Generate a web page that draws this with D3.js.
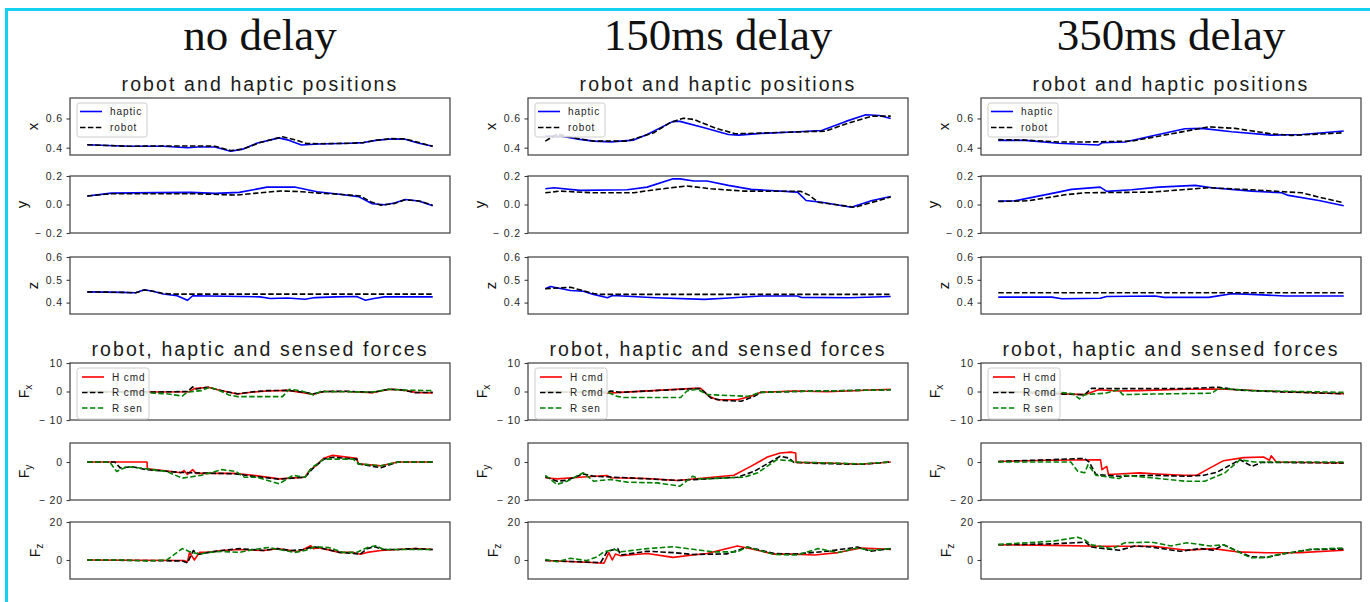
<!DOCTYPE html>
<html>
<head>
<meta charset="utf-8">
<script src="https://cdn.jsdelivr.net/npm/d3@7"></script>
<style>
  body { margin: 0; background: #fff; }
  svg text { font-family: "Liberation Sans", Arial, sans-serif; }
</style>
</head>
<body>
<svg id="chart" width="1370" height="602"></svg>
<script>
// titles and names
const colTitles = ['no delay', '150ms delay', '350ms delay']
const sectionTitles = ['robot and haptic positions', 'robot, haptic and sensed forces']
const posNames = ['haptic', 'robot']
const forceNames = ['H cmd', 'R cmd', 'R sen']
const rowLabels = ['x', 'y', 'z', 'x', 'y', 'z']

// y domains and ticks for each row
const rowDomains = [[0.35, 0.74], [-0.2, 0.2], [0.35, 0.6], [-10, 10], [-20, 10], [-10, 20]]
const rowTicks = [[0.4, 0.6], [-0.2, 0, 0.2], [0.4, 0.5, 0.6], [-10, 0, 10], [-20, 0], [0, 20]]

// ---- no delay ----
const nd_x_haptic = [[0,.42],[6,.415],[12,.41],[22,.41],[29,.40],[32,.405],[37,.405],[41.5,.376],[45,.39],[49,.43],[55.5,.467],[58.5,.45],[62,.418],[67,.425],[76,.43],[80,.435],[84,.452],[88,.46],[92,.458],[96,.43],[100,.41]]
const nd_x_robot = [[0,.42],[6,.415],[12,.41],[22,.412],[29,.412],[33,.412],[37,.41],[41.5,.38],[45,.39],[50,.435],[56.5,.475],[60,.455],[63.5,.428],[67,.427],[76,.43],[80,.435],[84,.452],[88,.462],[92,.46],[96,.435],[100,.41]]
const nd_y_haptic = [[0,.06],[7,.08],[20,.083],[30,.085],[37,.078],[44,.085],[52,.122],[60,.123],[66.5,.09],[73,.072],[78.5,.055],[82.5,.005],[86,-.002],[89,.01],[92,.035],[96,.025],[100,-.008]]
const nd_y_robot = [[0,.06],[7,.075],[20,.075],[30,.076],[36,.072],[43,.066],[49,.08],[56,.095],[62,.09],[67,.08],[73,.072],[79,.06],[82,.02],[85,-.005],[89,.008],[92,.033],[96,.025],[100,-.005]]
const nd_z_haptic = [[0,.447],[10,.445],[14,.443],[16.5,.456],[19,.45],[22,.438],[26,.43],[29,.41],[30.5,.43],[40,.428],[50,.425],[53,.418],[58,.42],[63,.415],[66,.422],[72,.425],[78,.427],[80.5,.41],[83,.418],[86,.425],[100,.425]]
const nd_z_robot = [[0,.447],[10,.445],[14,.443],[16.5,.455],[19,.45],[22,.44],[25,.437],[100,.437]]
const nd_fx_hcmd = [[0,0],[18,-0.2],[29.5,-0.1],[31,1.0],[35,1.5],[38,0.5],[43.5,-0.9],[48,-0.2],[52,0.2],[58,0.4],[62,-0.3],[65.5,-1.0],[68.5,0],[75,0],[82.5,-0.4],[87.5,0.8],[91,0.6],[95,-0.3],[100,-0.5]]
const nd_fx_rcmd = [[0,0],[18,-0.2],[29,0],[30.5,1.6],[31.5,0.9],[35,1.5],[38,0.5],[43.5,-0.8],[48,-0.1],[52,0.3],[58,0.4],[62,-0.2],[65.5,-0.8],[68.5,0],[75,0.1],[82.5,-0.3],[87.5,0.8],[91,0.5],[95,-0.4],[100,-0.3]]
const nd_fx_rsen = [[0,0],[18,-0.5],[23,-0.8],[27.5,-1.6],[29,-0.2],[33,0.3],[35.5,1.5],[38,0.5],[41,-1.2],[43.5,-1.8],[56.5,-1.8],[58.5,0.8],[62,0.2],[65.5,-1.2],[67.5,0],[82.5,-0.2],[87.5,0.8],[92,0.5],[100,0.3]]
const nd_fy_hcmd = [[0,0],[17.3,0],[17.4,-3.6],[22,-4.5],[27,-5.7],[28,-4.5],[29,-6.5],[30.5,-4],[31.5,-6],[38,-6],[42.5,-6],[48,-7],[55.5,-8.9],[63,-8],[64.5,-4],[65.5,-3],[68.5,2],[71,3.5],[78,2],[78.5,-1],[85,-2],[90,0],[100,0]]
const nd_fy_rcmd = [[0,0],[8,0],[9.5,-3.1],[13,-2.5],[17,-4],[27,-5.5],[38,-6],[42.5,-6.2],[48,-7.5],[55.5,-9],[63,-8],[65.5,-3],[68.5,1.5],[71,2.5],[78,1.5],[78.5,-1],[85,-3],[90,0],[100,0]]
const nd_fy_rsen = [[0,0],[6.5,0],[8.5,-5],[11.5,-2.5],[14.5,-3],[23,-5],[27.5,-8.5],[33,-7],[39,-4],[43,-5],[45.5,-8],[49,-8],[55.5,-11.5],[59.5,-7],[63,-8],[65,-3],[68.5,1.5],[77,1.5],[78.5,-1],[85,-2],[90,0],[100,0]]
const nd_fz_hcmd = [[0,0],[28,-0.3],[29,-1],[29.6,4],[31,0],[32.5,4],[35,4],[39,5],[44,5.5],[51,5],[55,6],[59,5],[61,4.5],[62.5,5.5],[64.7,7.5],[65.5,6],[67,6.5],[73,4],[77,4],[79,3],[81,4],[85,5],[90,5.5],[95,6],[100,5.5]]
const nd_fz_rcmd = [[0,0],[27.5,-0.5],[29,-1.5],[30.7,5],[32.3,3],[35,4],[39,5],[44,6],[51,5],[55,6],[59,5],[62.5,5.5],[65.6,7],[67,6.5],[73,4],[77,3.5],[79,3],[81,6],[83.3,7],[85.5,5.5],[90,5.5],[95,6],[100,5.5]]
const nd_fz_rsen = [[0,0],[10,0],[17,-0.5],[23,0],[27.5,6],[29.5,4.5],[32.5,3],[35,4],[39,4.5],[44,4],[48,5.5],[52.5,6.6],[57,5],[60,4],[63,5],[66,7],[70,6.5],[74,4],[78,4],[81,6.5],[83.5,7.5],[86,5.5],[90,5.5],[100,5.5]]

// ---- 150ms delay ----
const d150_x_haptic = [[0,.48],[4.3,.48],[10,.457],[14,.445],[19,.44],[25.6,.452],[29.5,.49],[37,.58],[39,.58],[46,.536],[53,.49],[56,.486],[62.5,.498],[72,.507],[80,.518],[87,.58],[92.8,.625],[96.7,.62],[100,.6]]
const d150_x_robot = [[0,.445],[3.4,.495],[8,.468],[14,.445],[23.7,.445],[31.4,.502],[36,.57],[40,.602],[43,.593],[49,.536],[55,.495],[62.5,.5],[72,.507],[81,.513],[88,.57],[94.6,.616],[100,.616]]
const d150_y_haptic = [[0,.11],[2.5,.118],[10,.099],[23.7,.103],[29.5,.122],[37,.18],[39,.18],[43,.165],[46.8,.165],[53,.134],[59.6,.106],[73,.087],[74,.064],[75.5,.028],[80,.016],[88.6,-.019],[94.6,.028],[100,.056]]
const d150_y_robot = [[0,.082],[4.3,.094],[14,.082],[25.6,.082],[31.4,.103],[41,.13],[48,.11],[57.6,.094],[74,.092],[76.5,.064],[79,.016],[89.6,-.019],[100,.052]]
const d150_z_haptic = [[0,.461],[1.5,.471],[7.3,.453],[11,.45],[14,.436],[18,.421],[19.5,.431],[32,.421],[46,.414],[52,.419],[62.5,.429],[73,.429],[74,.423],[88,.421],[100,.427]]
const d150_z_robot = [[0,.461],[7.3,.467],[14,.44],[16,.436],[100,.436]]
const d150_fx_hcmd = [[0,0],[17.9,-0.6],[21.8,-0.3],[43,1.1],[45,1.1],[47.4,-1.7],[49.8,-2.9],[55.6,-2.9],[59.5,-1.7],[62.4,-0.3],[72,0.2],[81.7,-0.1],[100,0.8]]
const d150_fx_rcmd = [[0,0],[17.9,-0.3],[18.9,0.2],[21.8,-0.3],[43,1.0],[45,1.0],[48,-2.3],[51,-3.1],[56.7,-3.4],[60.5,-1.7],[62.4,-0.3],[72,0],[100,0.6]]
const d150_fx_rsen = [[0,0],[17.9,-0.2],[20.8,-1.7],[22.7,-2.1],[39.2,-2.1],[41,0.2],[44,0.8],[47,-1.1],[58.6,-1.7],[62.4,-0.3],[72,0],[100,0.6]]
const d150_fy_hcmd = [[0,-8.3],[3.4,-8.9],[12,-7.8],[17.9,-7.1],[19,-8.3],[29.5,-8.7],[38.2,-9.7],[46.8,-8.3],[54.6,-7],[59.5,-2.3],[64.3,2.6],[68,4.7],[71,5.2],[72.5,4.7],[72.6,-0.2],[81.7,-0.5],[91.4,-1.2],[100,0]]
const d150_fy_rcmd = [[0,-7.8],[3.4,-10.1],[6.3,-9.6],[11,-6.3],[14,-7.5],[23.7,-8.3],[38.2,-9.7],[46.8,-8.9],[55.6,-8],[60.5,-4.9],[68,3],[70.5,2.1],[72,-0.2],[81.7,-0.9],[91.4,-1.2],[100,0]]
const d150_fy_rsen = [[0,-7],[3.4,-11.8],[6.3,-10.1],[11,-5.7],[14,-10.1],[19,-9.2],[23.7,-10.6],[32.4,-11],[39,-12.7],[42.7,-7.5],[44.6,-8.9],[57.6,-8],[61.5,-5.7],[67,1.2],[71,0.7],[72,0],[81.7,-0.5],[91.4,-1],[100,0]]
const d150_fz_hcmd = [[0,-0.3],[12,-1.2],[17,-1.7],[18.4,3.9],[19.4,0],[20.3,3.1],[21.8,2.2],[29.5,3.4],[37,1.4],[42.7,2.6],[46.8,3.4],[55.6,7.4],[58.5,6.3],[66.3,3.1],[72,3.1],[78,2.6],[84.7,3.9],[91.4,6.3],[100,5.6]]
const d150_fz_rcmd = [[0,-0.3],[16,-1.4],[18,4.6],[21,6],[21.8,2.6],[29.5,4.6],[37,3.9],[42.7,2.9],[52.5,3.2],[58.5,6.8],[66.3,3.4],[72,3.1],[81.7,4.6],[90.4,6.8],[94.2,4.6],[100,6]]
const d150_fz_rsen = [[0,0.3],[3.4,-0.9],[7.3,0.9],[12,-0.3],[15,1.7],[17,4.3],[20,5.6],[21.8,4.3],[29.5,6],[37,7],[48.7,4.3],[55.6,4.3],[58.5,6.8],[66.3,2.9],[73,2.6],[79,6],[84.7,3.9],[90.4,6.3],[94.2,5.1],[100,6]]

// ---- 350ms delay ----
const d350_x_haptic = [[0,.45],[7.7,.45],[17.4,.43],[29,.418],[30,.434],[36.7,.439],[44.4,.48],[54,.53],[58.9,.532],[67.6,.509],[79,.486],[87.9,.49],[100,.514]]
const d350_x_robot = [[0,.455],[7.7,.452],[17.4,.439],[25,.439],[38.6,.445],[50.2,.495],[60.9,.543],[68.6,.532],[79,.495],[85,.484],[100,.502]]
const d350_y_haptic = [[0,.024],[4.8,.026],[11.6,.059],[17.4,.087],[21.2,.106],[29.5,.122],[31.4,.092],[38.6,.103],[46.4,.122],[57,.134],[61.8,.118],[73.4,.094],[82,.082],[84,.064],[92.8,.028],[100,-.009]]
const d350_y_robot = [[0,.021],[8.7,.026],[19.3,.068],[25,.082],[44.4,.087],[60.9,.118],[73.4,.103],[87.9,.082],[92.8,.052],[100,.012]]
const d350_z_haptic = [[0,.424],[15.5,.424],[18.4,.417],[29.5,.419],[31.4,.427],[45.4,.429],[48,.423],[60.9,.423],[67.6,.439],[73.4,.436],[83,.429],[100,.429]]
const d350_z_robot = [[0,.443],[100,.443]]
const d350_fx_hcmd = [[0,0],[18,-0.8],[25,-1.1],[29,0.6],[34.8,0.2],[40.6,0.3],[54,0.8],[63.8,0.9],[69.6,0.6],[81,0],[100,-0.8]]
const d350_fx_rcmd = [[0,0],[18,-0.9],[25,-1.1],[27,1.1],[34.8,1.0],[54,1.0],[63.8,1.5],[69.6,0.5],[81,-0.1],[100,-0.8]]
const d350_fx_rsen = [[0,0],[18,-0.3],[21.6,-0.8],[23.5,-2.6],[25,-1.1],[31,-0.6],[34.8,0.6],[36,-1.1],[44.7,-0.9],[61.8,-0.6],[63.8,1.1],[73.4,0.3],[100,-0.3]]
const d350_fy_hcmd = [[0,0.3],[15,0.9],[29.6,1.2],[30,-4],[31.4,-2.3],[31.9,-6.6],[34.8,-6.3],[41,-5.7],[46,-6.3],[53.6,-7],[57.5,-7],[60.4,-4],[65.2,0.7],[71,2.3],[76.8,2.6],[78.5,0.9],[79,3.3],[80.5,0],[100,-0.5]]
const d350_fy_rcmd = [[0,0.3],[15,1.2],[24.9,1.9],[26.3,0],[28.3,-6.6],[35,-7.5],[44.4,-7],[54.6,-7.5],[59.5,-7],[63.3,-5.4],[70,1.2],[73.4,-2.3],[76.3,-0.2],[100,-0.5]]
const d350_fy_rsen = [[0,0],[21,0],[23,-4.9],[25,-5.7],[26,-1.4],[28.3,-7],[35,-8.7],[36.5,-7],[44.4,-8.3],[54,-10.1],[59.8,-10.1],[65.6,-5.7],[70,1.2],[74,0],[100,0]]
const d350_fz_hcmd = [[0,8],[15.9,7.7],[29.5,7.2],[45,7.2],[54.6,5.1],[62.3,6],[69,4.3],[77.6,3.8],[87.3,3.9],[100,5.1]]
const d350_fz_rcmd = [[0,8],[15.9,8.5],[25.3,9.4],[27,6.8],[35,5.1],[39.6,7.4],[44.4,6.8],[52.6,4.6],[58.5,6],[62.3,5.1],[65.2,8],[73,1.7],[77.6,1.4],[81.6,2.9],[90,5.5],[100,5.8]]
const d350_fz_rsen = [[0,8.2],[15.9,9.9],[23,12],[25,10.6],[27,8],[33,6],[36.7,9.1],[44.4,9.4],[50,7.4],[54.6,9.1],[61.3,7.4],[65.2,8],[73,1.2],[77.6,1.2],[81,2.9],[90.6,5.6],[100,6.3]]

const colSeries = [
  [[nd_x_haptic, nd_x_robot], [nd_y_haptic, nd_y_robot], [nd_z_haptic, nd_z_robot],
   [nd_fx_hcmd, nd_fx_rcmd, nd_fx_rsen], [nd_fy_hcmd, nd_fy_rcmd, nd_fy_rsen], [nd_fz_hcmd, nd_fz_rcmd, nd_fz_rsen]],
  [[d150_x_haptic, d150_x_robot], [d150_y_haptic, d150_y_robot], [d150_z_haptic, d150_z_robot],
   [d150_fx_hcmd, d150_fx_rcmd, d150_fx_rsen], [d150_fy_hcmd, d150_fy_rcmd, d150_fy_rsen], [d150_fz_hcmd, d150_fz_rcmd, d150_fz_rsen]],
  [[d350_x_haptic, d350_x_robot], [d350_y_haptic, d350_y_robot], [d350_z_haptic, d350_z_robot],
   [d350_fx_hcmd, d350_fx_rcmd, d350_fx_rsen], [d350_fy_hcmd, d350_fy_rcmd, d350_fy_rsen], [d350_fz_hcmd, d350_fz_rcmd, d350_fz_rsen]]
]

// layout
const colLeft = [70, 528, 981]
const plotW = 380
const rowTop = [98, 176, 257, 363, 443, 522]
const plotH = 57
const dash = '5.5,2.4'
const posStyles = [{ color: '#0000ff', dash: null }, { color: '#000000', dash: dash }]
const forceStyles = [{ color: '#ff0000', dash: null }, { color: '#000000', dash: dash }, { color: '#008000', dash: dash }]
const frameColor = '#3c3c3c'

const svg = d3.select('#chart')

svg.append('rect')
  .attr('x', 6.5).attr('y', 9.5)
  .attr('width', 1420).attr('height', 700)
  .attr('fill', 'none')
  .attr('stroke', '#16d0ef')
  .attr('stroke-width', 3)

const xScale = d3.scaleLinear().domain([-5, 105]).range([0, plotW])

function tickFormat(row) {
  const f = row < 3 ? d3.format('.1f') : d3.format('d')
  return v => (v < 0 ? '\u2212 ' : '') + f(Math.abs(v))
}

colLeft.forEach((left, c) => {
  const cx = left + plotW / 2

  svg.append('text')
    .attr('x', cx).attr('y', 50)
    .attr('text-anchor', 'middle')
    .style('font-family', '"Liberation Serif", "Times New Roman", serif')
    .style('font-size', '45px')
    .attr('fill', '#111')
    .text(colTitles[c])

  svg.append('text')
    .attr('x', cx).attr('y', 91)
    .attr('text-anchor', 'middle')
    .style('font-size', '19.5px')
    .style('letter-spacing', '2.1px')
    .attr('fill', '#1a1a1a')
    .text(sectionTitles[0])

  svg.append('text')
    .attr('x', cx).attr('y', 356)
    .attr('text-anchor', 'middle')
    .style('font-size', '19.5px')
    .style('letter-spacing', '2.1px')
    .attr('fill', '#1a1a1a')
    .text(sectionTitles[1])

  rowTop.forEach((top, r) => {
    const g = svg.append('g').attr('transform', `translate(${left},${top})`)
    const yScale = d3.scaleLinear().domain(rowDomains[r]).range([plotH, 0])

    const axis = g.append('g')
      .call(d3.axisLeft(yScale).tickValues(rowTicks[r]).tickSize(3.5).tickPadding(3.5).tickFormat(tickFormat(r)))
    axis.select('.domain').remove()
    axis.selectAll('.tick line').attr('stroke', frameColor).attr('stroke-width', 1.1)
    axis.selectAll('.tick text')
      .attr('fill', '#262626')
      .style('font-family', '"Liberation Sans", Arial, sans-serif')
      .style('font-size', '10.5px')
      .style('letter-spacing', '0.9px')

    const isForce = r >= 3
    const styles = isForce ? forceStyles : posStyles
    const line = d3.line().x(d => xScale(d[0])).y(d => yScale(d[1]))

    colSeries[c][r].forEach((series, i) => {
      g.append('path')
        .datum(series)
        .attr('d', line)
        .attr('fill', 'none')
        .attr('stroke', styles[i].color)
        .attr('stroke-width', 1.6)
        .attr('stroke-linejoin', 'round')
        .attr('stroke-dasharray', styles[i].dash)
    })

    g.append('rect')
      .attr('width', plotW).attr('height', plotH)
      .attr('fill', 'none')
      .attr('stroke', frameColor)
      .attr('stroke-width', 1.2)

    // y label placed left of the tick labels
    const minX = d3.min(axis.selectAll('.tick text').nodes(), n => n.getBBox().x)
    const lg = g.append('g')
      .attr('transform', `translate(${minX - 5},${plotH / 2}) rotate(-90)`)
    const lab = lg.append('text')
      .attr('text-anchor', 'middle')
      .attr('fill', '#111')
    if (isForce) {
      lab.append('tspan').style('font-size', '14px').text('F')
      lab.append('tspan').style('font-size', '10px').attr('dy', '3').text(rowLabels[r])
    } else {
      lab.style('font-size', '15px').text(rowLabels[r])
    }
    const bb = lab.node().getBBox()
    lab.attr('y', -(bb.y + bb.height))

    // legend in the first panel of each block
    if (r === 0 || r === 3) {
      const names = isForce ? forceNames : posNames
      const lw = isForce ? 72 : 70
      const lh = isForce ? 51 : 34
      const leg = g.append('g').attr('transform', `translate(7,5)`)
      leg.append('rect')
        .attr('width', lw).attr('height', lh)
        .attr('rx', 2.5)
        .attr('fill', 'rgba(255,255,255,0.85)')
        .attr('stroke', '#cccccc')
      names.forEach((name, i) => {
        const ly = isForce ? 9 + i * 15.5 : 8.5 + i * 16
        leg.append('line')
          .attr('x1', isForce ? 5 : 3).attr('x2', isForce ? 27 : 25)
          .attr('y1', ly).attr('y2', ly)
          .attr('stroke', styles[i].color)
          .attr('stroke-width', 1.6)
          .attr('stroke-dasharray', styles[i].dash)
        leg.append('text')
          .attr('x', isForce ? 35 : 33).attr('y', ly)
          .attr('dy', '0.35em')
          .attr('fill', '#222')
          .style('font-size', '10px')
          .style('letter-spacing', '0.9px')
          .text(name)
      })
    }
  })
})
</script>
</body>
</html>
